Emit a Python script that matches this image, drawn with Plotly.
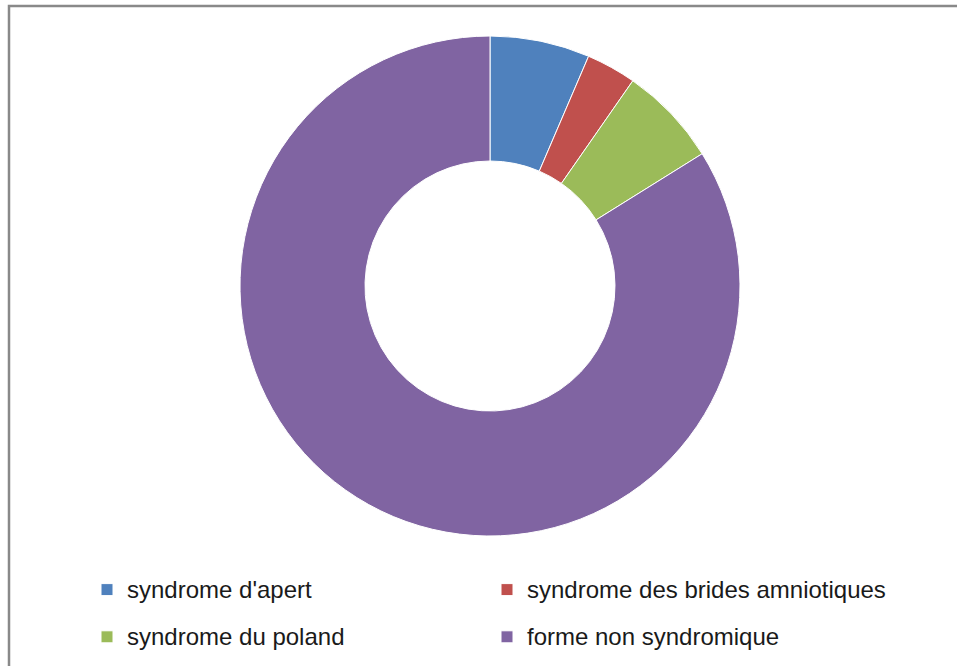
import plotly.graph_objects as go

labels = ["syndrome d'apert", "syndrome des brides amniotiques", "syndrome du poland", "forme non syndromique"]
values = [2, 1, 2, 26]
colors = ["#4F81BD", "#C0504D", "#9BBB59", "#8064A2"]

W, H = 957, 666
shown = ["<span style='font-size:24px;baseline-shift:5px'>%s</span>" % s for s in labels]
fig = go.Figure(go.Pie(
    labels=shown, values=values, sort=False, direction="clockwise", rotation=0,
    hole=0.5, textinfo="none",
    marker=dict(colors=colors, line=dict(color="white", width=1)),
    domain=dict(x=[240 / W, 740 / W], y=[1 - 536 / H, 1 - 36 / H]),
))
fig.update_layout(
    width=W, height=H, margin=dict(l=0, r=0, t=0, b=0, autoexpand=False),
    paper_bgcolor="white", plot_bgcolor="white",
    showlegend=True,
    legend=dict(orientation="h", x=87 / W, xanchor="left", y=1 - 561 / H, yanchor="top",
                entrywidth=355, entrywidthmode="pixels", traceorder="normal",
                font=dict(family="Liberation Sans", size=34, color="#1a1a1a")),
    shapes=[dict(type="rect", xref="paper", yref="paper", x0=9 / W, x1=1.02, y0=-0.02, y1=1 - 6 / H,
                 line=dict(color="#898989", width=2.5))],
)
fig.write_html("out.html")
